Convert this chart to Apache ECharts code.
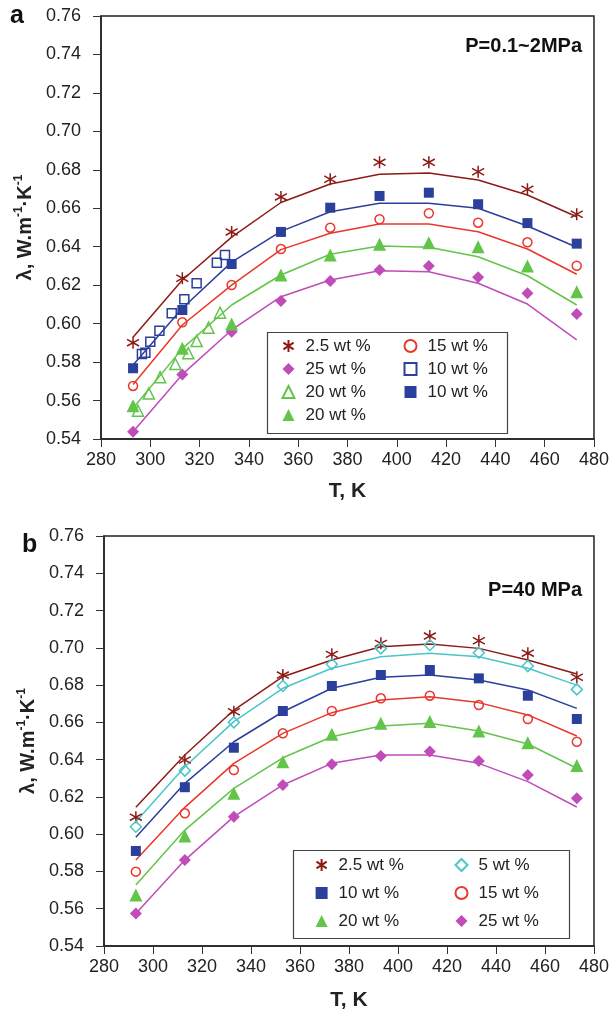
<!DOCTYPE html>
<html>
<head>
<meta charset="utf-8">
<script src="https://cdn.jsdelivr.net/npm/echarts@6/dist/echarts.min.js"></script>
<style>
  html, body { margin: 0; padding: 0; background: #fff; }
  #chart { width: 612px; height: 1012px; }
</style>
</head>
<body>
<div id="chart"></div>
<script>
// Temperatures (K) of the measured/model points
const TEMPS = [293, 313, 333, 353, 373, 393, 413, 433, 453, 473];

// Tick labels of both panels
const X_TICKS = [280, 300, 320, 340, 360, 380, 400, 420, 440, 460, 480];
const Y_TICKS = [0.54, 0.56, 0.58, 0.60, 0.62, 0.64, 0.66, 0.68, 0.70, 0.72, 0.74, 0.76];

// ---- Panel a: P = 0.1~2 MPa ----
const A_W25_PTS  = [0.5901, 0.6236, 0.6477, 0.6659, 0.6751, 0.6839, 0.6839, 0.6790, 0.6699, 0.6569];
const A_W25_FIT  = [0.5929, 0.6227, 0.6450, 0.6630, 0.6726, 0.6777, 0.6783, 0.6747, 0.6669, 0.6556];
const A_W10_PTS  = [0.5768, 0.6071, 0.6310, 0.6477, 0.6603, 0.6664, 0.6681, 0.6621, 0.6523, 0.6416];
const A_W10_FIT  = [0.5785, 0.6080, 0.6320, 0.6480, 0.6582, 0.6626, 0.6626, 0.6600, 0.6508, 0.6397];
const A_W15_PTS  = [0.5676, 0.6007, 0.6201, 0.6388, 0.6499, 0.6543, 0.6574, 0.6525, 0.6423, 0.6301];
const A_W15_FIT  = [0.5683, 0.5993, 0.6200, 0.6385, 0.6470, 0.6518, 0.6518, 0.6478, 0.6388, 0.6257];
const A_W20_PTS  = [0.5573, 0.5872, 0.5998, 0.6253, 0.6357, 0.6413, 0.6421, 0.6400, 0.6300, 0.6166];
const A_W20_FIT  = [0.5560, 0.5870, 0.6097, 0.6253, 0.6361, 0.6404, 0.6397, 0.6348, 0.6249, 0.6097];
const A_W250_PTS = [0.5438, 0.5736, 0.5958, 0.6118, 0.6222, 0.6279, 0.6300, 0.6241, 0.6158, 0.6050];
const A_W250_FIT = [0.5438, 0.5736, 0.5967, 0.6140, 0.6227, 0.6275, 0.6270, 0.6210, 0.6102, 0.5915];

// Second data set (open symbols), low-temperature range
const A_W10B_T  = [296.6, 298.0, 300.0, 303.7, 308.7, 313.8, 318.8, 327.0, 330.3];
const A_W10B_V  = [0.5842, 0.5849, 0.5906, 0.5963, 0.6054, 0.6127, 0.6210, 0.6317, 0.6357];
const A_W20B_T  = [295.0, 299.4, 304.0, 310.2, 315.4, 318.8, 323.6, 328.3];
const A_W20B_V  = [0.5547, 0.5637, 0.5721, 0.5790, 0.5846, 0.5910, 0.5979, 0.6057];

// ---- Panel b: P = 40 MPa ----
const B_W25_PTS  = [0.6091, 0.6398, 0.6657, 0.6854, 0.6965, 0.7024, 0.7063, 0.7038, 0.6971, 0.6842];
const B_W25_FIT  = [0.6144, 0.6425, 0.6666, 0.6845, 0.6935, 0.7006, 0.7020, 0.6997, 0.6935, 0.6860];
const B_W5_PTS   = [0.6040, 0.6341, 0.6600, 0.6795, 0.6912, 0.6997, 0.7015, 0.6974, 0.6902, 0.6777];
const B_W5_FIT   = [0.6067, 0.6362, 0.6604, 0.6783, 0.6890, 0.6952, 0.6971, 0.6952, 0.6890, 0.6800];
const B_W10_PTS  = [0.5910, 0.6252, 0.6464, 0.6661, 0.6795, 0.6854, 0.6881, 0.6836, 0.6743, 0.6618];
const B_W10_FIT  = [0.5983, 0.6273, 0.6496, 0.6657, 0.6783, 0.6842, 0.6854, 0.6827, 0.6774, 0.6675];
const B_W15_PTS  = [0.5799, 0.6112, 0.6344, 0.6541, 0.6661, 0.6729, 0.6743, 0.6693, 0.6618, 0.6496];
const B_W15_FIT  = [0.5861, 0.6144, 0.6380, 0.6541, 0.6652, 0.6720, 0.6738, 0.6706, 0.6640, 0.6527];
const B_W20_PTS  = [0.5674, 0.5990, 0.6219, 0.6389, 0.6536, 0.6595, 0.6604, 0.6554, 0.6491, 0.6368];
const B_W20_FIT  = [0.5727, 0.6022, 0.6246, 0.6410, 0.6523, 0.6580, 0.6595, 0.6554, 0.6484, 0.6354];
const B_W250_PTS = [0.5575, 0.5861, 0.6094, 0.6264, 0.6375, 0.6420, 0.6443, 0.6393, 0.6318, 0.6193];
const B_W250_FIT = [0.5575, 0.5861, 0.6094, 0.6264, 0.6380, 0.6425, 0.6425, 0.6380, 0.6282, 0.6146];

const FONT = "'Liberation Sans', Arial, Helvetica, sans-serif";
const INK = '#222';
const C = {
  darkred: '#8c1b16',
  blue: '#2b3f9c',
  red: '#e8372c',
  green: '#62c549',
  purple: '#bf4cb8',
  cyan: '#4ac6c8'
};
const STAR = 'path://M10,0 L10,20 M1.5,4.5 L18.5,15.5 M1.5,15.5 L18.5,4.5';

const pairs = (xs, ys) => xs.map((x, i) => [x, ys[i]]);

function markers(name, idx, xs, ys, symbol, size, color, filled) {
  return {
    name, type: 'scatter', xAxisIndex: idx, yAxisIndex: idx,
    data: pairs(xs, ys), symbol, symbolSize: size, z: 3,
    itemStyle: filled
      ? { color: color, borderColor: color, borderWidth: 0, opacity: 1 }
      : { color: 'none', borderColor: color, borderWidth: 1.5, opacity: 1 }
  };
}
function fit(name, idx, ys, color) {
  return {
    name, type: 'line', xAxisIndex: idx, yAxisIndex: idx,
    data: pairs(TEMPS, ys), showSymbol: false, symbol: 'none', z: 1,
    lineStyle: { color, width: 1.5 }, itemStyle: { color }
  };
}

function xAxis(idx, gap) {
  return {
    type: 'value', gridIndex: idx, min: X_TICKS[0], max: X_TICKS[X_TICKS.length - 1], interval: 20,
    name: 'T, K', nameLocation: 'middle', nameGap: gap,
    nameTextStyle: { fontFamily: FONT, fontSize: 21, fontWeight: 'bold', color: INK },
    axisLine: { show: true, onZero: false, lineStyle: { color: INK, width: 1.5 } },
    axisTick: { show: true, inside: false, length: 8, lineStyle: { color: '#333', width: 1 } },
    axisLabel: { fontFamily: FONT, fontSize: 18, color: INK, margin: 12 },
    splitLine: { show: false }
  };
}
function yAxis(idx) {
  return {
    type: 'value', gridIndex: idx, min: Y_TICKS[0], max: Y_TICKS[Y_TICKS.length - 1], interval: 0.02,
    name: '{n|λ, W.m}{s|-1}{n|·K}{s|-1}', nameLocation: 'middle', nameRotate: 90, nameGap: 64,
    nameTextStyle: {
      fontFamily: FONT, fontSize: 20, fontWeight: 'bold', color: INK,
      rich: {
        n: { fontFamily: FONT, fontSize: 20, fontWeight: 'bold', color: INK, lineHeight: 22, verticalAlign: 'bottom' },
        s: { fontFamily: FONT, fontSize: 12, fontWeight: 'bold', color: INK, lineHeight: 22, verticalAlign: 'top', padding: [0, 0, 8, 0] }
      }
    },
    axisLine: { show: true, onZero: false, lineStyle: { color: INK, width: 1.5 } },
    axisTick: { show: true, inside: false, length: 8, lineStyle: { color: '#333', width: 1 } },
    axisLabel: { fontFamily: FONT, fontSize: 18, color: INK, margin: 20, formatter: v => v.toFixed(2) },
    splitLine: { show: false }
  };
}

function legend(left, top, names, gap) {
  return {
    orient: 'vertical', left, top, padding: 0, itemGap: gap,
    itemWidth: 12, itemHeight: 12, data: names,
    selectedMode: false,
    formatter: n => n.split('|')[0],
    textStyle: { fontFamily: FONT, fontSize: 17, color: INK, lineHeight: 20, padding: [0, 0, 0, 6] }
  };
}

const series = [
  // panel a fitted curves
  fit('a-fit-2.5', 0, A_W25_FIT, C.darkred),
  fit('a-fit-10', 0, A_W10_FIT, C.blue),
  fit('a-fit-15', 0, A_W15_FIT, C.red),
  fit('a-fit-20', 0, A_W20_FIT, C.green),
  fit('a-fit-25', 0, A_W250_FIT, C.purple),
  // panel a points
  markers('2.5 wt %|a', 0, TEMPS, A_W25_PTS, STAR, 12, C.darkred, false),
  markers('25 wt %|a', 0, TEMPS, A_W250_PTS, 'diamond', 12, C.purple, true),
  markers('20 wt %|a-open', 0, A_W20B_T, A_W20B_V, 'triangle', 11, C.green, false),
  markers('20 wt %|a', 0, TEMPS, A_W20_PTS, 'triangle', 13, C.green, true),
  markers('15 wt %|a', 0, TEMPS, A_W15_PTS, 'circle', 9, C.red, false),
  markers('10 wt %|a-open', 0, A_W10B_T, A_W10B_V, 'rect', 9, C.blue, false),
  markers('10 wt %|a', 0, TEMPS, A_W10_PTS, 'rect', 10, C.blue, true),
  // panel b fitted curves
  fit('b-fit-2.5', 1, B_W25_FIT, C.darkred),
  fit('b-fit-5', 1, B_W5_FIT, C.cyan),
  fit('b-fit-10', 1, B_W10_FIT, C.blue),
  fit('b-fit-15', 1, B_W15_FIT, C.red),
  fit('b-fit-20', 1, B_W20_FIT, C.green),
  fit('b-fit-25', 1, B_W250_FIT, C.purple),
  // panel b points
  markers('2.5 wt %|b', 1, TEMPS, B_W25_PTS, STAR, 12, C.darkred, false),
  markers('5 wt %|b', 1, TEMPS, B_W5_PTS, 'diamond', 11, C.cyan, false),
  markers('10 wt %|b', 1, TEMPS, B_W10_PTS, 'rect', 10, C.blue, true),
  markers('15 wt %|b', 1, TEMPS, B_W15_PTS, 'circle', 9, C.red, false),
  markers('20 wt %|b', 1, TEMPS, B_W20_PTS, 'triangle', 13, C.green, true),
  markers('25 wt %|b', 1, TEMPS, B_W250_PTS, 'diamond', 12, C.purple, true)
];

const chart = echarts.init(document.getElementById('chart'), null, { renderer: 'canvas' });
chart.setOption({
  animation: false,
  backgroundColor: '#fff',
  grid: [
    { left: 101, right: 14, top: 16, height: 423, show: true, borderColor: INK, borderWidth: 1.5, backgroundColor: 'transparent' },
    { left: 104, right: 14, top: 536, height: 410, show: true, borderColor: INK, borderWidth: 1.5, backgroundColor: 'transparent' }
  ],
  xAxis: [xAxis(0, 42), xAxis(1, 44)],
  yAxis: [yAxis(0), yAxis(1)],
  legend: [
    legend(280, 336, ['2.5 wt %|a', '25 wt %|a', '20 wt %|a-open', '20 wt %|a'], 3),
    legend(402, 336, ['15 wt %|a', '10 wt %|a-open', '10 wt %|a'], 3),
    legend(314, 855, ['2.5 wt %|b', '10 wt %|b', '20 wt %|b'], 8),
    legend(453, 855, ['5 wt %|b', '15 wt %|b', '25 wt %|b'], 8)
  ],
  graphic: [
    { type: 'rect', left: 265, top: 330, shape: { width: 240, height: 101 }, style: { fill: 'none', stroke: '#444', lineWidth: 1.2 }, z: 10 },
    { type: 'rect', left: 291, top: 848, shape: { width: 276, height: 88 }, style: { fill: 'none', stroke: '#444', lineWidth: 1.2 }, z: 10 },
    { type: 'text', left: 10, top: 4, style: { text: 'a', font: "bold 25px " + FONT, fill: '#111' } },
    { type: 'text', left: 22, top: 533, style: { text: 'b', font: "bold 25px " + FONT, fill: '#111' } },
    { type: 'text', right: 30, top: 36, style: { text: 'P=0.1~2MPa', font: "bold 20px " + FONT, fill: '#111' } },
    { type: 'text', right: 30, top: 580, style: { text: 'P=40 MPa', font: "bold 20px " + FONT, fill: '#111' } }
  ],
  series
});
</script>
</body>
</html>
